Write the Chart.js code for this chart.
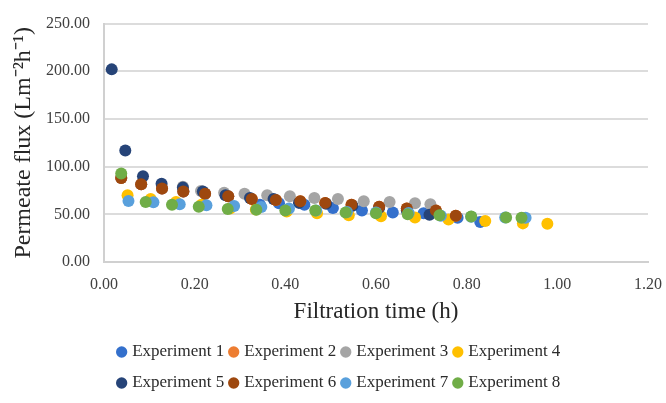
<!DOCTYPE html>
<html>
<head>
<meta charset="utf-8">
<script src="https://cdn.jsdelivr.net/npm/chart.js@4.4.1/dist/chart.umd.min.js"></script>
<style>
  html, body { margin: 0; padding: 0; background: #ffffff; }
  #wrap { width: 666px; height: 403px; }
</style>
</head>
<body>
<div id="wrap"><canvas id="c" width="666" height="403"></canvas></div>
<script>
// ---- Data ----
const seriesNames = ["Experiment 1", "Experiment 2", "Experiment 3", "Experiment 4",
                     "Experiment 5", "Experiment 6", "Experiment 7", "Experiment 8"];

const exp1Time = [0.038, 0.082, 0.128, 0.175, 0.223, 0.274, 0.344, 0.386, 0.442, 0.505, 0.569, 0.637, 0.705, 0.780, 0.830];
const exp1Flux = [88, 81.6, 77, 74, 71.6, 69, 60, 61.5, 60, 56.5, 54, 52, 51, 46.5, 42];

const exp2Time = [0.038, 0.082, 0.128, 0.175, 0.223, 0.274, 0.326, 0.379, 0.433, 0.488, 0.546, 0.607, 0.668, 0.732, 0.776];
const exp2Flux = [88, 81.6, 77, 74, 71.6, 69, 66, 65, 63.6, 62, 60, 58, 56, 54, 48.5];

const exp3Time = [0.174, 0.214, 0.265, 0.310, 0.360, 0.410, 0.464, 0.516, 0.573, 0.630, 0.686, 0.720];
const exp3Flux = [79, 74.5, 72.6, 71.6, 70, 69, 67, 66, 63.8, 63, 61.5, 60.5];

const exp4Time = [0.052, 0.103, 0.159, 0.215, 0.278, 0.335, 0.403, 0.470, 0.540, 0.611, 0.686, 0.760, 0.841, 0.924, 0.978];
const exp4Flux = [70, 66, 63, 60, 56, 55, 53, 51, 49, 48, 46.7, 44.6, 43, 40.5, 40];

const exp5Time = [0.017, 0.047, 0.086, 0.127, 0.174, 0.218, 0.268, 0.322, 0.374, 0.430, 0.490, 0.548, 0.607, 0.668, 0.718];
const exp5Flux = [202, 117, 90, 82, 78, 74, 70, 67, 66, 62, 61, 59, 57, 54, 49.5];

const exp6Time = [0.038, 0.082, 0.128, 0.175, 0.223, 0.274, 0.326, 0.379, 0.433, 0.488, 0.546, 0.607, 0.668, 0.732, 0.776];
const exp6Flux = [88, 81.6, 77, 74, 71.6, 69, 66, 65, 63.6, 62, 60, 58, 56, 54, 48.5];

const exp7Time = [0.054, 0.109, 0.167, 0.226, 0.287, 0.347, 0.408, 0.468, 0.536, 0.600, 0.672, 0.743, 0.810, 0.885, 0.930];
const exp7Flux = [64, 62.6, 60.5, 59.5, 58.8, 57.7, 56, 54, 52.5, 52, 51.5, 48.4, 47.5, 46.7, 46.3];

const exp8Time = [0.038, 0.092, 0.150, 0.209, 0.273, 0.336, 0.400, 0.466, 0.533, 0.600, 0.670, 0.740, 0.810, 0.887, 0.921];
const exp8Flux = [92.7, 63, 60, 58, 55.5, 54.7, 54, 54, 52, 51, 50, 49, 47.8, 46.7, 46.3];

const xTicks = [0, 0.2, 0.4, 0.6, 0.8, 1.0, 1.2];
const yTicks = [0, 50, 100, 150, 200, 250];

// ---- Styles ----
const seriesColors = ["#3470CC", "#ED7D31", "#A5A5A5", "#FFC000",
                      "#264478", "#9E480E", "#59A0DC", "#70AD47"];
const allTimes = [exp1Time, exp2Time, exp3Time, exp4Time, exp5Time, exp6Time, exp7Time, exp8Time];
const allFlux  = [exp1Flux, exp2Flux, exp3Flux, exp4Flux, exp5Flux, exp6Flux, exp7Flux, exp8Flux];

const datasets = seriesNames.map((name, i) => ({
  label: name,
  data: allTimes[i].map((t, k) => ({ x: t, y: allFlux[i][k] })),
  backgroundColor: seriesColors[i],
  borderColor: seriesColors[i],
  borderWidth: 0,
  pointRadius: 6,
  pointHoverRadius: 6,
  pointStyle: 'circle',
  showLine: false,
  order: seriesNames.length - 1 - i   // later series drawn on top, as in the original
}));

const SERIF = "'Liberation Serif', 'Times New Roman', serif";
const LEGEND_PER_ROW = 4;
const LEGEND_ROW_GAP = 31;

// Legend: 4 items per row, rows 31px apart, tight horizontal spacing
const legendRows = {
  id: 'legendRows',
  beforeLayout(chart) {
    const lg = chart.legend;
    if (lg && !lg._patched) {
      const origUpdate = lg.update.bind(lg);
      lg.update = (mw, mh, m) => origUpdate(Math.min(mw, 520), mh, m);
      const origDraw = lg._draw.bind(lg);
      lg._draw = function () {
        const items = this.legendItems, top = this.top, lws = this.lineWidths;
        for (let k = 0; k * LEGEND_PER_ROW < items.length; k++) {
          this.legendItems = items.slice(k * LEGEND_PER_ROW, (k + 1) * LEGEND_PER_ROW);
          this.top = top + k * LEGEND_ROW_GAP;
          this.lineWidths = [lws[k] !== undefined ? lws[k] : lws[0]];
          origDraw();
        }
        this.legendItems = items; this.top = top; this.lineWidths = lws;
      };
      lg._patched = true;
    }
  },
  afterLayout(chart) {
    const lg = chart.legend;
    if (lg) { lg.left += 16; lg.right += 16; }
  }
};

new Chart(document.getElementById('c'), {
  type: 'scatter',
  data: { datasets },
  plugins: [legendRows],
  options: {
    responsive: false,
    animation: false,
    devicePixelRatio: 1,
    layout: { padding: { top: 21, right: 18, bottom: 8, left: 0 } },
    plugins: {
      tooltip: { enabled: false },
      legend: {
        position: 'bottom',
        labels: {
          usePointStyle: true,
          pointStyle: 'circle',
          boxWidth: 4,
          boxHeight: 8,
          padding: 7.5,
          color: '#2b2b2b',
          font: { family: SERIF, size: 17 },
          sort: (a, b) => a.datasetIndex - b.datasetIndex
        }
      }
    },
    scales: {
      x: {
        type: 'linear',
        min: 0, max: 1.2,
        afterBuildTicks: s => { s.ticks = xTicks.map(v => ({ value: v })); },
        afterFit: s => { s.height = 74; },
        grid: { display: false, drawTicks: true, tickLength: 10 },
        border: { display: true, color: '#d0d0d0', width: 2 },
        ticks: {
          padding: 3,
          color: '#404040',
          font: { family: SERIF, size: 16 },
          callback: v => Number(v).toFixed(2)
        },
        title: {
          display: true,
          text: 'Filtration time (h)',
          color: '#262626',
          font: { family: SERIF, size: 23 },
          padding: { top: 0, bottom: 10 }
        }
      },
      y: {
        type: 'linear',
        min: 0, max: 250,
        afterBuildTicks: s => { s.ticks = yTicks.map(v => ({ value: v })); },
        afterFit: s => { s.width = 104; },
        grid: { color: '#dcdcdc', lineWidth: 2, drawTicks: false },
        border: { display: true, color: '#d0d0d0', width: 2 },
        ticks: {
          padding: 14,
          color: '#404040',
          font: { family: SERIF, size: 16 },
          callback: v => Number(v).toFixed(2)
        },
        title: {
          display: true,
          text: 'Permeate flux (Lm\u207B\u00B2h\u207B\u00B9)',
          color: '#262626',
          font: { family: SERIF, size: 24 },
          padding: { top: 9, bottom: 0 }
        }
      }
    }
  }
});
</script>
</body>
</html>
